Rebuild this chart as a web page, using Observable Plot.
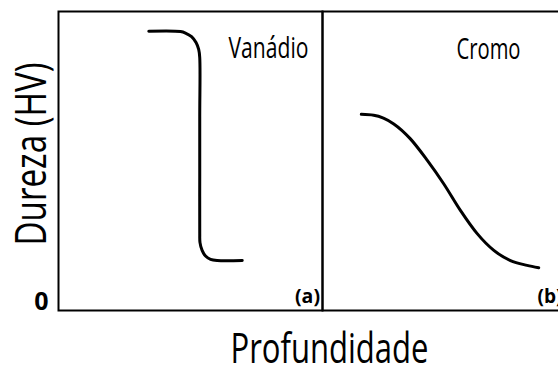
<!DOCTYPE html>
<html>
<head>
<meta charset="utf-8">
<script src="https://cdn.jsdelivr.net/npm/d3@7"></script>
<script src="https://cdn.jsdelivr.net/npm/@observablehq/plot@0.6"></script>
<style>
  html, body { margin: 0; padding: 0; background: #fff; overflow: hidden; width: 558px; height: 367px; }
</style>
</head>
<body>
<div id="chart"></div>
<script>
// Panels, labels and ticks
const panels = ["Vanádio", "Cromo"];
const panelTags = ["(a)", "(b)"];
const axisLabelX = "Profundidade";
const axisLabelY = "Dureza (HV)";
const yTicks = [0];

// Vanádio: hardness stays high, then drops abruptly at a given depth
const vanadioDepth    = [34.2, 46.2, 48.1, 50.4, 52.1, 53.1, 53.5, 53.5, 53.5, 53.5, 53.6, 54.4, 55.7, 57.6, 60.1, 69.6];
const vanadioHardness = [93.4, 93.3, 92.8, 91.6, 89.6, 87.3, 84.6, 65.0, 45.0, 25.8, 22.7, 20.1, 18.2, 17.1, 16.7, 16.7];

// Cromo: hardness decreases gradually with depth
const cromoDepth    = [14.7, 19.4, 27.0, 33.3, 39.7, 45.9, 52.3, 58.6, 64.9, 71.2, 77.5, 81.9];
const cromoHardness = [65.6, 65.3, 62.4, 57.4, 50.2, 42.4, 33.4, 25.7, 20.1, 16.7, 15.1, 14.3];

const vanadio = vanadioDepth.map((depth, i) => ({panel: panels[0], depth, hardness: vanadioHardness[i]}));
const cromo = cromoDepth.map((depth, i) => ({panel: panels[1], depth, hardness: cromoHardness[i]}));

// The typeface is drawn narrow: fixed rendered lengths for the labels
const textWidths = {
  "Vanádio": 80, "Cromo": 64, "(a)": 25, "(b)": 25,
  "Profundidade": 198, "Dureza (HV)": 183
};

const chart = Plot.plot({
  width: 590,
  height: 367,
  marginTop: 11,
  marginRight: 4,
  marginBottom: 57,
  marginLeft: 58,
  style: {fontFamily: "'Open Sans', sans-serif", color: "#000", background: "#fff", maxWidth: "none"},
  fx: {domain: panels, padding: 0, axis: null},
  x: {domain: [0, 100], axis: null},
  y: {domain: [0, 100], axis: null},
  marks: [
    Plot.frame({stroke: "#000", strokeWidth: 2}),
    Plot.axisY({ticks: yTicks, tickSize: 0, tickPadding: 10, dy: -9, fontSize: 25, fontWeight: "bold", label: null}),
    Plot.line(vanadio, {x: "depth", y: "hardness", fx: "panel", curve: "catmull-rom", stroke: "#000", strokeWidth: 3}),
    Plot.line(cromo, {x: "depth", y: "hardness", fx: "panel", curve: "monotone-x", stroke: "#000", strokeWidth: 3}),
    Plot.text([panels[0]], {fx: d => d, text: d => d, frameAnchor: "top", textAnchor: "middle", lineAnchor: "bottom", dx: 78, dy: 46, fontSize: 30}),
    Plot.text([panels[1]], {fx: d => d, text: d => d, frameAnchor: "top", textAnchor: "middle", lineAnchor: "bottom", dx: 34, dy: 47, fontSize: 30}),
    Plot.text([panelTags[0]], {fx: () => panels[0], text: d => d, frameAnchor: "bottom-right", textAnchor: "middle", lineAnchor: "bottom", dx: -15, dy: -8, fontSize: 20, fontWeight: "bold"}),
    Plot.text([panelTags[1]], {fx: () => panels[1], text: d => d, frameAnchor: "bottom-right", textAnchor: "middle", lineAnchor: "bottom", dx: -36.5, dy: -8, fontSize: 20, fontWeight: "bold"}),
    Plot.text([axisLabelX], {facet: "super", text: d => d, frameAnchor: "bottom", textAnchor: "middle", lineAnchor: "bottom", dx: 7, dy: 52, fontSize: 42}),
    Plot.text([axisLabelY], {facet: "super", text: d => d, frameAnchor: "left", rotate: -90, textAnchor: "middle", lineAnchor: "bottom", dx: -13, dy: -7, fontSize: 43})
  ]
});

d3.select(chart).selectAll("text").each(function () {
  const w = textWidths[this.textContent];
  if (w) {
    this.setAttribute("textLength", w);
    this.setAttribute("lengthAdjust", "spacingAndGlyphs");
  }
});

document.getElementById("chart").appendChild(chart);
</script>
</body>
</html>
